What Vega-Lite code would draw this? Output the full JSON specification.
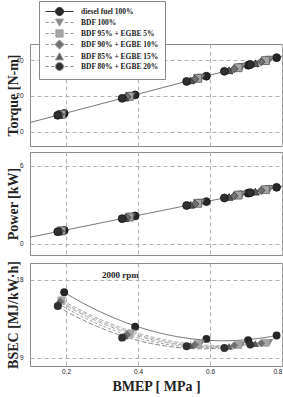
{
  "$schema": "https://vega.github.io/schema/vega-lite/v6.json",
  "padding": {"left": 5, "top": 0, "right": 0, "bottom": 0},
  "spacing": 4,
  "config": {
    "view": {"stroke": "#8a8a8a", "strokeWidth": 1},
    "axis": {"grid": true, "gridDash": [4, 3], "gridColor": "#b0b0b0", "gridWidth": 1, "ticks": false, "tickSize": 0, "domain": false, "labelOverlap": false, "labelBound": false, "labelFont": "Liberation Sans", "labelFontSize": 6.5, "labelColor": "#222", "titleFont": "Liberation Serif", "titleFontSize": 14, "titleFontWeight": "bold", "titleColor": "#222"},
    "axisY": {"labelPadding": 7, "titleX": -13, "titleBaseline": "alphabetic"},
    "axisX": {"labelPadding": 2, "titlePadding": 5},
    "legend": {"orient": "none", "legendX": 9, "legendY": -43, "strokeColor": "#888", "fillColor": "#ffffff", "padding": 6, "symbolSize": 64, "symbolOpacity": 1, "symbolStrokeWidth": 1, "labelFont": "Liberation Serif", "labelFontSize": 7.5, "labelFontWeight": "bold", "labelColor": "#222", "labelOffset": 27, "rowPadding": -4.1, "labelLimit": 0, "title": null}
  },
  "data": {"values": [
    {"fuel": "diesel fuel 100%", "bmep": 0.195, "torque": 10.3, "power": 1.05, "bsec": 16.6},
    {"fuel": "diesel fuel 100%", "bmep": 0.392, "torque": 20.6, "power": 2.16, "bsec": 12.6},
    {"fuel": "diesel fuel 100%", "bmep": 0.590, "torque": 31.0, "power": 3.26, "bsec": 11.2},
    {"fuel": "diesel fuel 100%", "bmep": 0.706, "torque": 37.1, "power": 3.91, "bsec": 11.05},
    {"fuel": "diesel fuel 100%", "bmep": 0.785, "torque": 41.3, "power": 4.36, "bsec": 11.6},
    {"fuel": "BDF 100%", "bmep": 0.190, "torque": 10.0, "power": 1.02, "bsec": 15.7},
    {"fuel": "BDF 100%", "bmep": 0.382, "torque": 20.1, "power": 2.10, "bsec": 11.9},
    {"fuel": "BDF 100%", "bmep": 0.575, "torque": 30.2, "power": 3.18, "bsec": 10.7},
    {"fuel": "BDF 100%", "bmep": 0.688, "torque": 36.2, "power": 3.81, "bsec": 10.55},
    {"fuel": "BDF 100%", "bmep": 0.765, "torque": 40.2, "power": 4.24, "bsec": 10.8},
    {"fuel": "BDF 95% + EGBE 5%", "bmep": 0.187, "torque": 9.8, "power": 1.01, "bsec": 15.6},
    {"fuel": "BDF 95% + EGBE 5%", "bmep": 0.376, "torque": 19.8, "power": 2.07, "bsec": 11.8},
    {"fuel": "BDF 95% + EGBE 5%", "bmep": 0.566, "torque": 29.8, "power": 3.13, "bsec": 10.6},
    {"fuel": "BDF 95% + EGBE 5%", "bmep": 0.678, "torque": 35.7, "power": 3.76, "bsec": 10.5},
    {"fuel": "BDF 95% + EGBE 5%", "bmep": 0.754, "torque": 39.7, "power": 4.18, "bsec": 10.75},
    {"fuel": "BDF 90% + EGBE 10%", "bmep": 0.184, "torque": 9.7, "power": 0.99, "bsec": 15.5},
    {"fuel": "BDF 90% + EGBE 10%", "bmep": 0.370, "torque": 19.5, "power": 2.03, "bsec": 11.7},
    {"fuel": "BDF 90% + EGBE 10%", "bmep": 0.558, "torque": 29.4, "power": 3.08, "bsec": 10.55},
    {"fuel": "BDF 90% + EGBE 10%", "bmep": 0.667, "torque": 35.1, "power": 3.70, "bsec": 10.45},
    {"fuel": "BDF 90% + EGBE 10%", "bmep": 0.742, "torque": 39.0, "power": 4.12, "bsec": 10.7},
    {"fuel": "BDF 85% + EGBE 15%", "bmep": 0.180, "torque": 9.5, "power": 0.97, "bsec": 15.3},
    {"fuel": "BDF 85% + EGBE 15%", "bmep": 0.363, "torque": 19.1, "power": 1.99, "bsec": 11.55},
    {"fuel": "BDF 85% + EGBE 15%", "bmep": 0.546, "torque": 28.7, "power": 3.02, "bsec": 10.45},
    {"fuel": "BDF 85% + EGBE 15%", "bmep": 0.653, "torque": 34.3, "power": 3.62, "bsec": 10.35},
    {"fuel": "BDF 85% + EGBE 15%", "bmep": 0.726, "torque": 38.2, "power": 4.03, "bsec": 10.65},
    {"fuel": "BDF 80% + EGBE 20%", "bmep": 0.177, "torque": 9.3, "power": 0.95, "bsec": 15.0},
    {"fuel": "BDF 80% + EGBE 20%", "bmep": 0.356, "torque": 18.7, "power": 1.95, "bsec": 11.35},
    {"fuel": "BDF 80% + EGBE 20%", "bmep": 0.535, "torque": 28.1, "power": 2.96, "bsec": 10.35},
    {"fuel": "BDF 80% + EGBE 20%", "bmep": 0.640, "torque": 33.7, "power": 3.54, "bsec": 10.15},
    {"fuel": "BDF 80% + EGBE 20%", "bmep": 0.712, "torque": 37.5, "power": 3.95, "bsec": 10.55}
  ]},
  "vconcat": [
    {
      "width": 252, "height": 102,
      "layer": [
        {
          "transform": [{"regression": "torque", "on": "bmep", "extent": [0.1, 0.8]}],
          "mark": {"type": "line", "color": "#777", "strokeWidth": 1, "clip": true},
          "encoding": {
            "x": {"field": "bmep", "type": "quantitative", "scale": {"domain": [0.1, 0.8], "nice": false}, "axis": {"values": [0.2, 0.4, 0.6, 0.8], "labels": false, "labelPadding": 0, "title": null}},
            "y": {"field": "torque", "type": "quantitative", "scale": {"domain": [-7.7778, 48.8889], "nice": false}, "axis": {"values": [0, 10, 20, 30, 40], "title": "Torque [N-m]"}}
          }
        },
        {
          "mark": {"type": "point", "filled": true, "size": 62, "strokeWidth": 0.8, "opacity": 1},
          "encoding": {
            "x": {"field": "bmep", "type": "quantitative"},
            "y": {"field": "torque", "type": "quantitative"},
            "shape": {"field": "fuel", "type": "nominal", "scale": {"domain": ["diesel fuel 100%", "BDF 100%", "BDF 95% + EGBE 5%", "BDF 90% + EGBE 10%", "BDF 85% + EGBE 15%", "BDF 80% + EGBE 20%"], "range": ["circle", "triangle-down", "square", "diamond", "triangle-up", "circle"]}, "legend": null},
            "fill": {"field": "fuel", "type": "nominal", "scale": {"domain": ["diesel fuel 100%", "BDF 100%", "BDF 95% + EGBE 5%", "BDF 90% + EGBE 10%", "BDF 85% + EGBE 15%", "BDF 80% + EGBE 20%"], "range": ["#262626", "#8a8a8a", "#a5a5a5", "#707070", "#5a5a5a", "#303030"]}, "legend": null},
            "stroke": {"field": "fuel", "type": "nominal", "scale": {"domain": ["diesel fuel 100%", "BDF 100%", "BDF 95% + EGBE 5%", "BDF 90% + EGBE 10%", "BDF 85% + EGBE 15%", "BDF 80% + EGBE 20%"], "range": ["#111111", "#4a4a4a", "#5a5a5a", "#3a3a3a", "#2a2a2a", "#111111"]}, "legend": null}
          }
        },
        {
          "mark": {"type": "point", "filled": true, "opacity": 0, "strokeWidth": 1},
          "encoding": {
            "x": {"field": "bmep", "type": "quantitative"},
            "y": {"field": "torque", "type": "quantitative"},
            "shape": {"field": "fuel", "type": "nominal", "scale": {"domain": ["diesel fuel 100%", "BDF 100%", "BDF 95% + EGBE 5%", "BDF 90% + EGBE 10%", "BDF 85% + EGBE 15%", "BDF 80% + EGBE 20%"], "range": [
              "M-1,0L6,0M1.5,0A1,1,0,1,0,3.5,0A1,1,0,1,0,1.5,0Z",
              "M-1,0L-0.2,0M0.4,0L1.2,0M3.8,0L4.6,0M5.2,0L6,0M1.5,-0.85L3.5,-0.85L2.5,0.9Z",
              "M-1,0L-0.2,0M0.4,0L1.2,0M3.8,0L4.6,0M5.2,0L6,0M1.6,-0.9L3.4,-0.9L3.4,0.9L1.6,0.9Z",
              "M-1,0L-0.2,0M0.4,0L1.2,0M3.8,0L4.6,0M5.2,0L6,0M2.5,-1.15L3.65,0L2.5,1.15L1.35,0Z",
              "M-1,0L-0.2,0M0.4,0L1.2,0M3.8,0L4.6,0M5.2,0L6,0M2.5,-0.95L3.5,0.85L1.5,0.85Z",
              "M-1,0L-0.2,0M0.4,0L1.2,0M3.8,0L4.6,0M5.2,0L6,0M1.5,0A1,1,0,1,0,3.5,0A1,1,0,1,0,1.5,0Z"
            ]}, "legend": {"orient": "none", "legendX": 9, "legendY": -43, "title": null}},
            "fill": {"field": "fuel", "type": "nominal", "scale": {"domain": ["diesel fuel 100%", "BDF 100%", "BDF 95% + EGBE 5%", "BDF 90% + EGBE 10%", "BDF 85% + EGBE 15%", "BDF 80% + EGBE 20%"], "range": ["#262626", "#8a8a8a", "#a5a5a5", "#707070", "#5a5a5a", "#303030"]}, "legend": {"orient": "none", "legendX": 9, "legendY": -43, "title": null}},
            "stroke": {"field": "fuel", "type": "nominal", "scale": {"domain": ["diesel fuel 100%", "BDF 100%", "BDF 95% + EGBE 5%", "BDF 90% + EGBE 10%", "BDF 85% + EGBE 15%", "BDF 80% + EGBE 20%"], "range": ["#333333", "#999999", "#999999", "#999999", "#999999", "#888888"]}, "legend": {"orient": "none", "legendX": 9, "legendY": -43, "title": null}}
          }
        }
      ],
      "resolve": {"scale": {"shape": "independent", "fill": "independent", "stroke": "independent"}}
    },
    {
      "width": 252, "height": 103,
      "layer": [
        {
          "transform": [{"regression": "power", "on": "bmep", "extent": [0.1, 0.8]}],
          "mark": {"type": "line", "color": "#777", "strokeWidth": 1, "clip": true},
          "encoding": {
            "x": {"field": "bmep", "type": "quantitative", "scale": {"domain": [0.1, 0.8], "nice": false}, "axis": {"values": [0.2, 0.4, 0.6, 0.8], "labels": false, "labelPadding": 0, "title": null}},
            "y": {"field": "power", "type": "quantitative", "scale": {"domain": [-0.8462, 7.0769], "nice": false}, "axis": {"values": [0, 2, 4, 6], "title": "Power [kW]"}}
          }
        },
        {
          "mark": {"type": "point", "filled": true, "size": 62, "strokeWidth": 0.8, "opacity": 1},
          "encoding": {
            "x": {"field": "bmep", "type": "quantitative"},
            "y": {"field": "power", "type": "quantitative"},
            "shape": {"field": "fuel", "type": "nominal", "scale": {"domain": ["diesel fuel 100%", "BDF 100%", "BDF 95% + EGBE 5%", "BDF 90% + EGBE 10%", "BDF 85% + EGBE 15%", "BDF 80% + EGBE 20%"], "range": ["circle", "triangle-down", "square", "diamond", "triangle-up", "circle"]}, "legend": null},
            "fill": {"field": "fuel", "type": "nominal", "scale": {"domain": ["diesel fuel 100%", "BDF 100%", "BDF 95% + EGBE 5%", "BDF 90% + EGBE 10%", "BDF 85% + EGBE 15%", "BDF 80% + EGBE 20%"], "range": ["#262626", "#8a8a8a", "#a5a5a5", "#707070", "#5a5a5a", "#303030"]}, "legend": null},
            "stroke": {"field": "fuel", "type": "nominal", "scale": {"domain": ["diesel fuel 100%", "BDF 100%", "BDF 95% + EGBE 5%", "BDF 90% + EGBE 10%", "BDF 85% + EGBE 15%", "BDF 80% + EGBE 20%"], "range": ["#111111", "#4a4a4a", "#5a5a5a", "#3a3a3a", "#2a2a2a", "#111111"]}, "legend": null}
          }
        }
      ],
      "resolve": {"scale": {"shape": "independent", "fill": "independent", "stroke": "independent"}}
    },
    {
      "width": 252, "height": 103,
      "layer": [
        {
          "transform": [{"regression": "bsec", "on": "bmep", "method": "poly", "order": 2, "groupby": ["fuel"]}],
          "mark": {"type": "line", "strokeWidth": 1, "clip": true},
          "encoding": {
            "x": {"field": "bmep", "type": "quantitative", "scale": {"domain": [0.1, 0.8], "nice": false}, "axis": {"values": [0.2, 0.4, 0.6, 0.8], "title": "BMEP [ MPa ]"}},
            "y": {"field": "bsec", "type": "quantitative", "scale": {"domain": [8.0769, 19.9615], "nice": false}, "axis": {"values": [9, 12, 15, 18], "title": "BSEC [MJ/kW·h]"}},
            "stroke": {"field": "fuel", "type": "nominal", "scale": {"domain": ["diesel fuel 100%", "BDF 100%", "BDF 95% + EGBE 5%", "BDF 90% + EGBE 10%", "BDF 85% + EGBE 15%", "BDF 80% + EGBE 20%"], "range": ["#666666", "#aaaaaa", "#b5b5b5", "#aaaaaa", "#a0a0a0", "#888888"]}, "legend": null},
            "strokeDash": {"field": "fuel", "type": "nominal", "scale": {"domain": ["diesel fuel 100%", "BDF 100%", "BDF 95% + EGBE 5%", "BDF 90% + EGBE 10%", "BDF 85% + EGBE 15%", "BDF 80% + EGBE 20%"], "range": [[1, 0], [4, 2], [4, 2], [5, 2], [3, 2], [5, 2]]}, "legend": null}
          }
        },
        {
          "mark": {"type": "point", "filled": true, "size": 62, "strokeWidth": 0.8, "opacity": 1},
          "encoding": {
            "x": {"field": "bmep", "type": "quantitative"},
            "y": {"field": "bsec", "type": "quantitative"},
            "shape": {"field": "fuel", "type": "nominal", "scale": {"domain": ["diesel fuel 100%", "BDF 100%", "BDF 95% + EGBE 5%", "BDF 90% + EGBE 10%", "BDF 85% + EGBE 15%", "BDF 80% + EGBE 20%"], "range": ["circle", "triangle-down", "square", "diamond", "triangle-up", "circle"]}, "legend": null},
            "fill": {"field": "fuel", "type": "nominal", "scale": {"domain": ["diesel fuel 100%", "BDF 100%", "BDF 95% + EGBE 5%", "BDF 90% + EGBE 10%", "BDF 85% + EGBE 15%", "BDF 80% + EGBE 20%"], "range": ["#262626", "#8a8a8a", "#a5a5a5", "#707070", "#5a5a5a", "#303030"]}, "legend": null}
          }
        },
        {
          "data": {"values": [{"label": "2000 rpm"}]},
          "mark": {"type": "text", "font": "Liberation Serif", "fontSize": 9, "fontWeight": "bold", "color": "#222"},
          "encoding": {
            "x": {"datum": 0.351, "type": "quantitative"},
            "y": {"datum": 18.6, "type": "quantitative"},
            "text": {"field": "label"}
          }
        }
      ],
      "resolve": {"scale": {"shape": "independent", "fill": "independent", "stroke": "independent"}}
    }
  ]
}
